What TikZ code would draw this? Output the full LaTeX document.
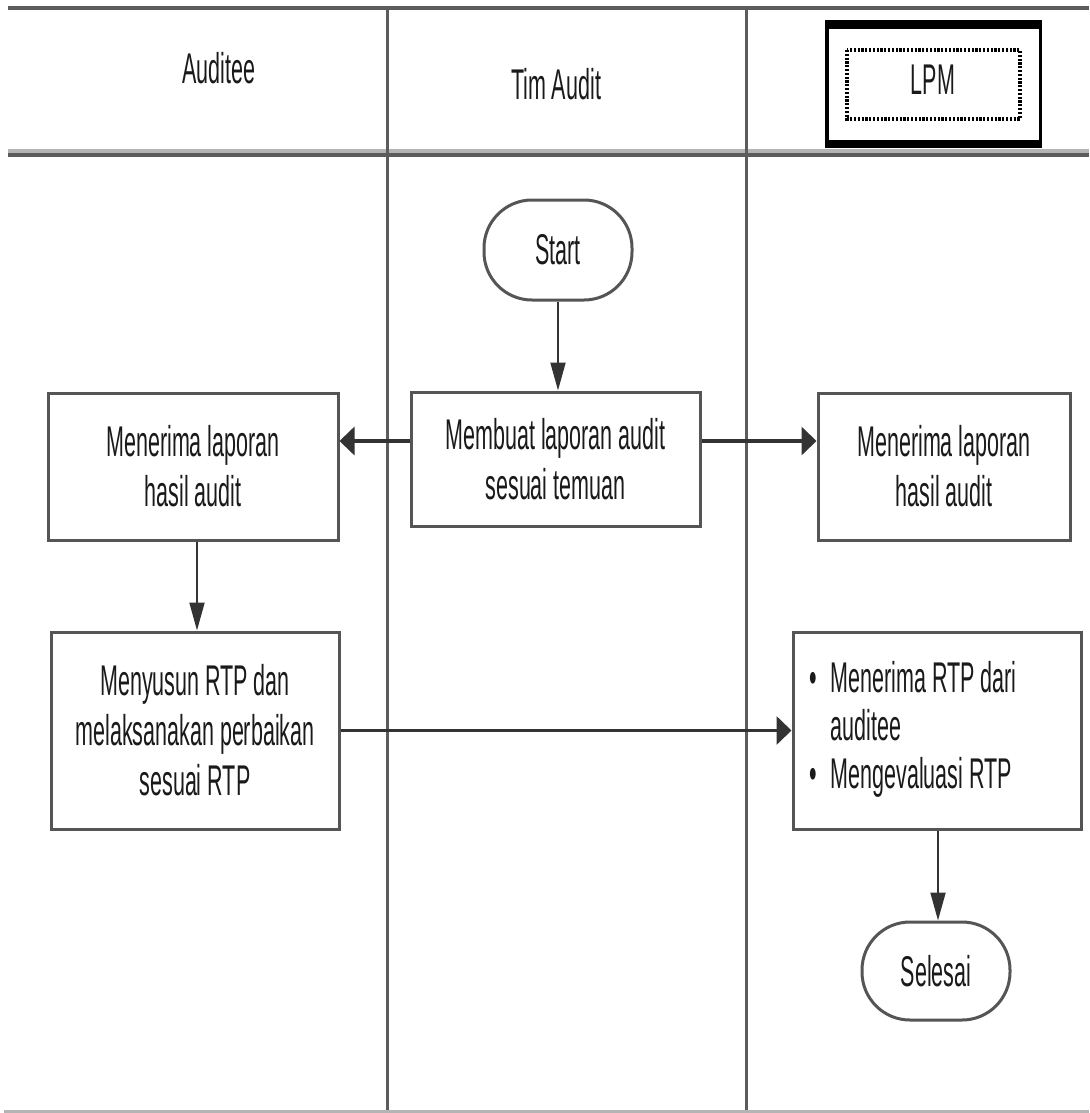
\documentclass[tikz,border=0pt]{standalone}
\usepackage{fontspec}
\setmainfont{Liberation Sans}[FakeStretch=0.5]
\usetikzlibrary{arrows.meta}
\definecolor{frame}{HTML}{555555}
\definecolor{lane}{HTML}{5C5C5C}
\definecolor{lightlane}{HTML}{B4B4B4}
\definecolor{conn}{HTML}{333333}
\definecolor{txt}{HTML}{1A1A1A}
\begin{document}
\begin{tikzpicture}[x=1pt,y=-1pt,
  font=\fontsize{43}{50}\selectfont, text=txt,
  box/.style={draw=frame, line width=3pt, fill=white, inner sep=0pt, align=center},
  term/.style={box, rounded corners=48pt},
  harr/.style={draw=conn, line width=3.5pt, -{Triangle[length=15pt,width=28pt]}},
  varr/.style={draw=conn, line width=2pt, -{Triangle[length=28pt,width=15pt]}},
  hdr/.style={inner sep=0pt}
  ]
\useasboundingbox (0,0) rectangle (1089,1113);
% swimlane frame
\draw[lane, line width=4pt] (8,8) -- (1089,8);
\draw[lightlane, line width=4pt] (8,151) -- (1089,151);
\draw[lane, line width=4pt] (8,155) -- (1089,155);
\draw[lane, line width=3pt] (387,8) -- (387,1113);
\draw[lane, line width=3pt] (746,8) -- (746,1113);
\draw[lightlane, line width=3pt] (4,1111) -- (1089,1111);
% LPM header box
\fill[black] (825,20) rectangle (1042,29);
\fill[black] (825,140) rectangle (1042,148);
\fill[black] (825,20) rectangle (828.5,148);
\fill[black] (1038.5,20) rectangle (1042,148);
\draw[black, line width=3.5pt, dash pattern=on 2.2pt off 1.6pt] (847,50) rectangle (1020,119);
% headers
\node[hdr] (hAud) at (219,68) {Auditee};
\node[hdr] (hTim) at (556,84) {Tim Audit};
\node[hdr] (hLPM) at (933,80) {LPM};
% nodes
\node[term, minimum width=148pt, minimum height=100pt] (start) at (558,250) {Start};
\node[box, minimum width=289pt, minimum height=134pt] (memb) at (555.5,459) {Membuat laporan audit\\sesuai temuan};
\node[box, minimum width=290pt, minimum height=147pt] (lrec) at (193,466.5) {Menerima laporan\\hasil audit};
\node[box, minimum width=252pt, minimum height=147pt] (rrec) at (944,466.5) {Menerima laporan\\hasil audit};
\node[box, minimum width=288pt, minimum height=197pt] (meny) at (195,730.5) {Menyusun RTP dan\\melaksanakan perbaikan\\sesuai RTP};
\node[box, minimum width=288pt, minimum height=197pt] (rtp) at (937,730.5)
  {\begin{tabular}{@{}l@{\hspace{14pt}}l@{\hspace{48pt}}}
   \textbullet & Menerima RTP dari\\[-2pt]
               & auditee\\[-2pt]
   \textbullet & Mengevaluasi RTP
   \end{tabular}};
\node[term, minimum width=148pt, minimum height=98pt] (sel) at (936,971) {Selesai};
% connectors
\draw[varr] (start.south) -- (start.south |- memb.north);
\draw[harr] ([yshift=18pt]memb.west) -- ([yshift=18pt]memb.west -| lrec.east);
\draw[harr] ([yshift=18pt]memb.east) -- ([yshift=18pt]memb.east -| rrec.west);
\draw[varr] ([xshift=4pt]lrec.south) -- ([xshift=4pt]lrec.south |- meny.north);
\draw[harr] (meny.east) -- (meny.east -| rtp.west);
\draw[varr] ([xshift=1pt]rtp.south) -- ([xshift=1pt]rtp.south |- sel.north);
\end{tikzpicture}
\end{document}
